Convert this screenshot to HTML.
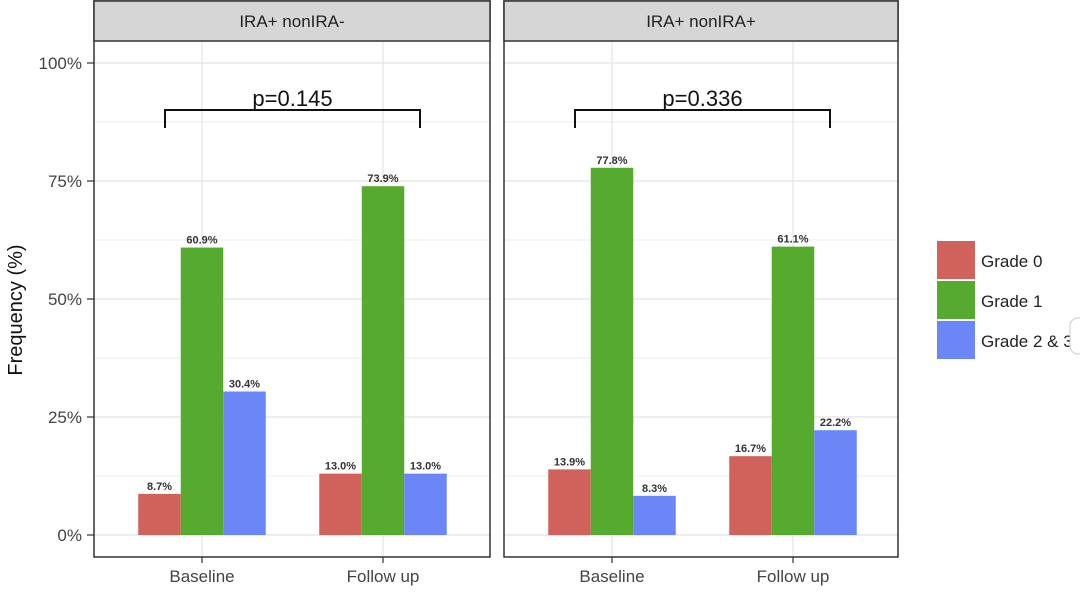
<!DOCTYPE html>
<html><head><meta charset="utf-8"><style>
body{margin:0;background:#fff;}
svg text{font-family:"Liberation Sans",sans-serif;}
</style></head><body>
<svg id="chart" width="1080" height="588" viewBox="0 0 1080 588" xmlns="http://www.w3.org/2000/svg">
<text x="22" y="310" font-size="20" fill="#111" text-anchor="middle" transform="rotate(-90 22 310)">Frequency (%)</text>
<g id="legend">
<rect x="937" y="241" width="38" height="38" fill="#d0625b"/>
<text x="981" y="267" font-size="17" fill="#222">Grade 0</text>
<rect x="937" y="281" width="38" height="38" fill="#56ab2f"/>
<text x="981" y="307" font-size="17" fill="#222">Grade 1</text>
<rect x="937" y="321" width="38" height="38" fill="#6b86f7"/>
<text x="981" y="347" font-size="17" fill="#222">Grade 2 &amp; 3</text>
</g>
<rect x="1070" y="318" width="20" height="36" rx="8" fill="#fff" stroke="#ccc"/>
</svg>
<script>
const categories = ["Baseline", "Follow up"];
const panels = ["IRA+ nonIRA-", "IRA+ nonIRA+"];
const grade0 = [[8.7, 13.0], [13.9, 16.7]];
const grade1 = [[60.9, 73.9], [77.8, 61.1]];
const grade23 = [[30.4, 13.0], [8.3, 22.2]];
const pValues = ["p=0.145", "p=0.336"];
const yTicks = [0, 25, 50, 75, 100];
const yTickLabels = ["0%", "25%", "50%", "75%", "100%"];

const svg = document.getElementById('chart');
const NS = 'http://www.w3.org/2000/svg';
function mk(tag, attrs, parent) {
  const e = document.createElementNS(NS, tag);
  for (const k in attrs) e.setAttribute(k, attrs[k]);
  (parent || svg).appendChild(e);
  return e;
}
const panelX = [94, 504], panelWs = [396, 394], plotTop = 41, plotBottom = 557;
function y(v) { return 535 - v * 4.72; }
function x(p, i) { return panelX[p] + 108 + i * 181; }
const colors = ["#d0625b", "#56ab2f", "#6b86f7"];
const series = [grade0, grade1, grade23];
const barW = 42.5;

yTicks.forEach((t, i) => {
  const tl = mk('text', {x: 82, y: y(t) + 6, 'font-size': 17, fill: '#444', 'text-anchor': 'end'});
  tl.textContent = yTickLabels[i];
  
  
  const tm = mk('line', {x1: 87, x2: 94, y1: y(t), y2: y(t), stroke: '#333', 'stroke-width': 1.2});
  
  
});

panels.forEach((pn, p) => {
  const g = mk('g', {});
  
  
  const px = panelX[p], panelW = panelWs[p];
  for (let v = 0; v <= 100; v += 12.5) {
    const gl = mk('line', {x1: px, x2: px + panelW, y1: y(v), y2: y(v), stroke: v % 25 === 0 ? '#e4e4e4' : '#f0f0f0', 'stroke-width': 1.2}, g);
    
    
  }
  categories.forEach((c, i) => {
    const vl = mk('line', {x1: x(p, i), x2: x(p, i), y1: plotTop, y2: plotBottom, stroke: '#e4e4e4', 'stroke-width': 1.2}, g);
    
    
  });
  categories.forEach((c, i) => {
    series.forEach((s, k) => {
      const v = s[p][i];
      const bx = x(p, i) - 1.5 * barW + k * barW;
      const b = mk('rect', {x: bx, y: y(v), width: barW, height: y(0) - y(v), fill: colors[k]}, g);
      
      
      const t = mk('text', {x: bx + barW / 2, y: y(v) - 4, 'font-size': 11, 'font-weight': 'bold', fill: '#333', 'text-anchor': 'middle'}, g);
      t.textContent = v.toFixed(1) + '%';
      
      
    });
    const tk = mk('line', {x1: x(p, i), x2: x(p, i), y1: plotBottom, y2: plotBottom + 6, stroke: '#333', 'stroke-width': 1.2}, g);
    
    
    const xl = mk('text', {x: x(p, i), y: 582, 'font-size': 17, fill: '#444', 'text-anchor': 'middle'}, g);
    xl.textContent = c;
    
    
  });
  const bl = x(p, 0) - 37, br = x(p, 1) + 37;
  const bk = mk('path', {d: `M${bl},128 V110 H${br} V128`, fill: 'none', stroke: '#111', 'stroke-width': 2}, g);
  
  
  const pt = mk('text', {x: (bl + br) / 2, y: 106, 'font-size': 22, fill: '#111', 'text-anchor': 'middle'}, g);
  pt.textContent = pValues[p];
  
  
  const fr = mk('rect', {x: px, y: 1, width: panelW, height: plotBottom - 1, fill: 'none', stroke: '#333', 'stroke-width': 1.5}, g);
  
  
  const st = mk('rect', {x: px, y: 1, width: panelW, height: 40, fill: '#d6d6d6', stroke: '#333', 'stroke-width': 1.5}, g);
  
  
  const stt = mk('text', {x: px + panelW / 2, y: 27, 'font-size': 17, fill: '#222', 'text-anchor': 'middle'}, g);
  stt.textContent = pn;
  
  
});
</script>
</body></html>
